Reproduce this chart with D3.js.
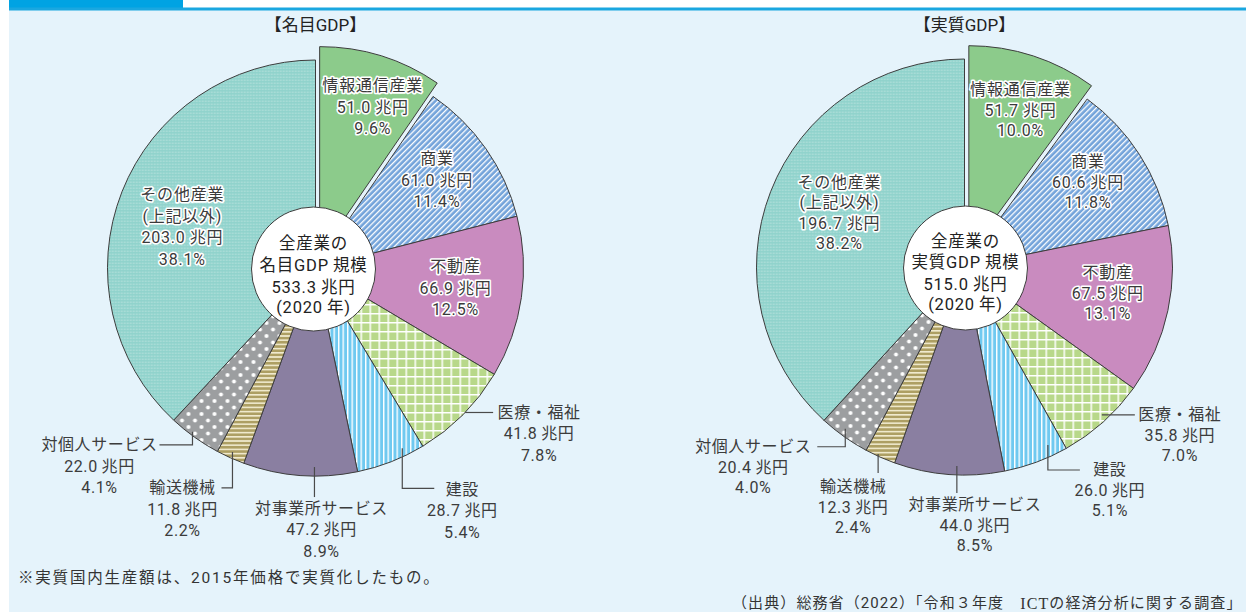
<!DOCTYPE html>
<html><head><meta charset="utf-8">
<script src="https://cdn.jsdelivr.net/npm/d3@7/dist/d3.min.js"></script>
<style>
html,body{margin:0;padding:0;background:#fff;}
svg{display:block;}
text{font-family:Roboto,"Noto Sans CJK JP","Noto Sans",sans-serif;}
</style></head>
<body>
<svg id="chart" width="1246" height="612"></svg>
<script>
// ---------------- data ----------------
const categories = ["情報通信産業","商業","不動産","医療・福祉","建設","対事業所サービス","輸送機械","対個人サービス","その他産業"];
const nominalValues = [51.0, 61.0, 66.9, 41.8, 28.7, 47.2, 11.8, 22.0, 203.0];
const nominalShares = ["9.6","11.4","12.5","7.8","5.4","8.9","2.2","4.1","38.1"];
const realValues = [51.7, 60.6, 67.5, 35.8, 26.0, 44.0, 12.3, 20.4, 196.7];
const realShares = ["10.0","11.8","13.1","7.0","5.1","8.5","2.4","4.0","38.2"];
const chartTitles = ["【名目GDP】","【実質GDP】"];
const totalLabels = ["533.3","515.0"];
const centerHeads = ["名目GDP\u2009規模","実質GDP\u2009規模"];
const baseYear = "(2020\u2009年)";
const footnote = "※実質国内生産額は、2015年価格で実質化したもの。";
const sourceNote = ["（出典）総務省（2022）「令和３年度　","ICT","の経済分析に関する調査」"];

// ---------------- styles ----------------
const fills = ["#8ccb8b","url(#p-shogyo)","#c98bbf","url(#p-iryo)","url(#p-kensetsu)","#8a7fa1","url(#p-yuso)","url(#p-kojin)","url(#p-other)"];

// layout (annotation placement only)
const R = 208;
const charts = [
  {cx:315.5, cy:268, values:nominalValues, shares:nominalShares, title:chartTitles[0], total:totalLabels[0], head:centerHeads[0],
   centerDx:-2, centerYs:[-25,-3,19,39],
   inner:{0:[2.4,0.82],1:[-0.8,0.72],2:[0,0.68],8:[-4.4,0.67]},
   outer:{
     3:{a:134, rf:1.0, seg:[[28,0]], tdx:46, tdy:0},
     4:{a:154.3, rf:0.962, seg:[[0,40],[32,0]], tdx:28, tdy:1},
     5:{a:180.3, rf:0.957, seg:[[0,30]], tdx:7, tdy:11},
     6:{a:204.3, rf:0.97, seg:[[0,36],[-11,0]], tdx:-39, tdy:0},
     7:{a:216.9, rf:0.985, seg:[[0,13],[-33,0]], tdx:-60, tdy:0}
   }, lh:21.5},
  {cx:964.5, cy:267, values:realValues, shares:realShares, title:chartTitles[1], total:totalLabels[1], head:centerHeads[1],
   centerDx:1, centerYs:[-26,-5,17,37],
   inner:{0:[1.6,0.80],1:[-1.8,0.72],2:[-1.7,0.70],8:[2.1,0.655]},
   outer:{
     3:{a:137.1, rf:0.97, seg:[[33,0]], tdx:45, tdy:0},
     4:{a:154.9, rf:0.945, seg:[[0,25],[32,0]], tdx:30, tdy:0},
     5:{a:182.2, rf:0.957, seg:[[0,27]], tdx:18, tdy:12},
     6:{a:204.8, rf:0.99, seg:[[0,19]], tdx:-25, tdy:14},
     7:{a:216.4, rf:0.966, seg:[[0,18],[-28,0]], tdx:-64, tdy:0}
   }, lh:20.5}
];

const svg = d3.select("#chart");
const defs = svg.append("defs");

// patterns
(function(){
  let p = defs.append("pattern").attr("id","p-shogyo").attr("width",4).attr("height",4)
    .attr("patternUnits","userSpaceOnUse").attr("patternTransform","rotate(45)");
  p.append("rect").attr("width",4).attr("height",4).attr("fill","#73a3da");
  p.append("rect").attr("x",0).attr("width",1.3).attr("height",4).attr("fill","#ffffff");

  p = defs.append("pattern").attr("id","p-iryo").attr("width",9).attr("height",9).attr("patternUnits","userSpaceOnUse");
  p.append("rect").attr("width",9).attr("height",9).attr("fill","#b8d88a");
  p.append("rect").attr("width",1.5).attr("height",9).attr("fill","#ffffff");
  p.append("rect").attr("width",9).attr("height",1.5).attr("fill","#ffffff");

  p = defs.append("pattern").attr("id","p-kensetsu").attr("width",4.5).attr("height",9).attr("patternUnits","userSpaceOnUse");
  p.append("rect").attr("width",4.5).attr("height",9).attr("fill","#6fc9f0");
  p.append("rect").attr("width",1.4).attr("height",9).attr("fill","#ffffff");

  p = defs.append("pattern").attr("id","p-yuso").attr("width",9).attr("height",4.2).attr("patternUnits","userSpaceOnUse");
  p.append("rect").attr("width",9).attr("height",4.2).attr("fill","#ad9f63");
  p.append("rect").attr("width",9).attr("height",1.6).attr("fill","#f1ebcf");

  p = defs.append("pattern").attr("id","p-kojin").attr("width",13).attr("height",13).attr("patternUnits","userSpaceOnUse");
  p.append("rect").attr("width",13).attr("height",13).attr("fill","#9c9ea0");
  p.append("circle").attr("cx",3).attr("cy",3).attr("r",2).attr("fill","#ffffff");
  p.append("circle").attr("cx",9.5).attr("cy",9.5).attr("r",2).attr("fill","#ffffff");

  p = defs.append("pattern").attr("id","p-other").attr("width",3).attr("height",3).attr("patternUnits","userSpaceOnUse");
  p.append("rect").attr("width",3).attr("height",3).attr("fill","#8fd2cb");
  p.append("rect").attr("x",0.5).attr("y",0.5).attr("width",1.6).attr("height",1.6).attr("fill","#ffffff").attr("opacity",0.28);
})();

// frame
svg.append("rect").attr("x",9).attr("y",9).attr("width",1237).attr("height",603).attr("fill","#e5f3fb");
svg.append("rect").attr("x",9).attr("y",0).attr("width",174).attr("height",9).attr("fill","#00a3e3");
svg.append("rect").attr("x",9).attr("y",7.5).attr("width",1237).attr("height",3).attr("fill","#1aa7e0");

const pie = d3.pie().sort(null).startAngle(0).endAngle(2*Math.PI);
const arc = d3.arc().innerRadius(0).outerRadius(R);
const polar = (deg, r) => { const a = deg*Math.PI/180; return [Math.sin(a)*r, -Math.cos(a)*r]; };
const EXPLODE = 14;

// writes each line as its own text element
function block(parent, lines, x, y0, lh, attrs){
  lines.forEach((s,j) => {
    const t = parent.append("text").attr("x",x).attr("y",y0 + j*lh)
      .attr("text-anchor","middle").attr("dominant-baseline","central").text(s);
    Object.entries(attrs).forEach(([k,v]) => t.attr(k,v));
  });
}

charts.forEach(c => {
  const g = svg.append("g").attr("transform",`translate(${c.cx},${c.cy})`);
  const arcs = pie(c.values);

  g.selectAll("path.slice").data(arcs).join("path").attr("class","slice")
    .attr("d", arc)
    .attr("fill", (d,i) => fills[i])
    .attr("stroke","#3d3d3d").attr("stroke-width",1).attr("stroke-linejoin","round")
    .attr("transform", (d,i) => {
      if (i !== 0) return null;
      const m = (d.startAngle + d.endAngle)/2;
      return `translate(${Math.sin(m)*EXPLODE},${-Math.cos(m)*EXPLODE})`;
    });

  // title
  svg.append("text").attr("x",c.cx).attr("y",25).attr("text-anchor","middle")
    .attr("dominant-baseline","central").attr("font-size",17).attr("fill","#222")
    .text(c.title);

  // inner labels
  Object.keys(c.inner).forEach(k => {
    const i = +k, d = arcs[i];
    const [dA, rf] = c.inner[k];
    const mid = (d.startAngle + d.endAngle)/2*180/Math.PI + dA;
    const [x,y] = polar(mid, R*rf);
    const lines = i === 8 ? [categories[i],"(上記以外)", c.values[i].toFixed(1)+"\u2009兆円", c.shares[i]+"%"]
                          : [categories[i], c.values[i].toFixed(1)+"\u2009兆円", c.shares[i]+"%"];
    block(g, lines, x, y - (lines.length-1)/2*c.lh, c.lh, {
      "font-size":16, "letter-spacing":"0.8px", "fill":"#3a3a3a", "stroke":"#ffffff",
      "stroke-width":3.2, "stroke-linejoin":"round", "paint-order":"stroke"});
  });

  // outer labels with leader lines
  Object.keys(c.outer).forEach(k => {
    const i = +k, o = c.outer[k];
    let [x,y] = polar(o.a, R*o.rf);
    const pts = [[x,y]];
    o.seg.forEach(([dx,dy]) => { x += dx; y += dy; pts.push([x,y]); });
    g.append("path").attr("d", d3.line()(pts)).attr("fill","none")
      .attr("stroke","#4a4a4a").attr("stroke-width",1.2);
    const lines = [categories[i], c.values[i].toFixed(1)+"\u2009兆円", c.shares[i]+"%"];
    block(g, lines, x + o.tdx, y + o.tdy, c.lh, {"font-size":16, "letter-spacing":"0.6px", "fill":"#3c3c3c"});
  });

  // center circle
  g.append("circle").attr("cx",c.centerDx).attr("cy",1).attr("r",62)
    .attr("fill","#ffffff").attr("stroke","#3d3d3d").attr("stroke-width",1);
  ["全産業の", c.head, c.total+"\u2009兆円", baseYear].forEach((s,j) =>
    g.append("text").attr("x",c.centerDx).attr("y",c.centerYs[j]).attr("text-anchor","middle")
      .attr("dominant-baseline","central").attr("font-size",16.5).attr("fill","#222")
      .attr("letter-spacing","0.8px").text(s));
});

// notes
svg.append("text").attr("x",18).attr("y",578).attr("dominant-baseline","central")
  .attr("font-size",15.5).attr("letter-spacing","1.8px").attr("fill","#333").text(footnote);
const src = svg.append("text").attr("x",732).attr("y",603).attr("dominant-baseline","central")
  .attr("font-size",15).attr("letter-spacing","1.1px").attr("fill","#333");
src.append("tspan").text(sourceNote[0]);
src.append("tspan").attr("font-family","Liberation Serif, serif").attr("font-size",16).text(sourceNote[1]);
src.append("tspan").text(sourceNote[2]);
</script>
</body></html>
